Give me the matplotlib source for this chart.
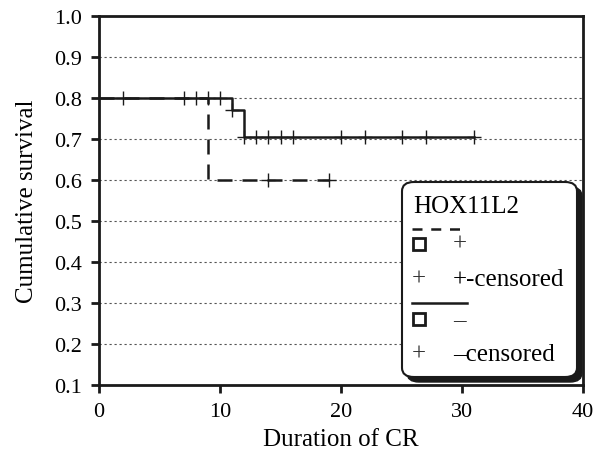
import matplotlib.pyplot as plt
import numpy as np
from matplotlib.patches import FancyBboxPatch
from matplotlib.lines import Line2D

plt.rcParams['font.family'] = ['Liberation Serif', 'DejaVu Serif']

# HOX11L2 negative (solid)
neg_t = [0, 11, 12, 31]
neg_s = [0.8, 0.77, 0.705, 0.705]
neg_cens = [2, 7, 8, 9, 10, 11, 12, 13, 14, 15, 16, 20, 22, 25, 27, 31]

# HOX11L2 positive (dashed)
pos_t = [0, 9, 19]
pos_s = [0.8, 0.6, 0.6]
pos_cens = [14, 19]

xticks = [0, 10, 20, 30, 40]
yticks = [0.1, 0.2, 0.3, 0.4, 0.5, 0.6, 0.7, 0.8, 0.9, 1.0]


def surv_at(t_arr, s_arr, times):
    idx = np.searchsorted(t_arr, times, side='right') - 1
    return np.array(s_arr)[idx]


fig = plt.figure(figsize=(5.95, 4.6), dpi=100)
ax = fig.add_axes([99 / 595, 1 - 386 / 460, 484 / 595, 369 / 460])

for y in yticks[1:-1]:
    ax.axhline(y, color='#555555', lw=0.8, ls=(0, (2, 2.5)), zorder=1)

ax.step(neg_t, neg_s, where='post', color='#1a1a1a', lw=1.8, zorder=3)
ax.plot(neg_cens, surv_at(neg_t, neg_s, neg_cens), ls='none', marker='+',
        ms=10, mew=1.0, color='#1a1a1a', zorder=4)

l, = ax.step(pos_t, pos_s, where='post', color='#1a1a1a', lw=1.8, zorder=3)
l.set_dashes((6, 4))
ax.plot(pos_cens, surv_at(pos_t, pos_s, pos_cens), ls='none', marker='+',
        ms=10, mew=1.0, color='#1a1a1a', zorder=4)

ax.set_xlim(0, 40)
ax.set_ylim(0.1, 1.0)
ax.set_xticks(xticks)
ax.set_yticks(yticks)
ax.set_yticklabels(['%.1f' % v for v in yticks])
ax.tick_params(direction='out', length=6, width=2, labelsize=16, color='#1a1a1a', pad=6)
for sp in ax.spines.values():
    sp.set_linewidth(2)
    sp.set_color('#1a1a1a')
ax.set_xlabel('Duration of CR', fontsize=18, labelpad=5)
ax.set_ylabel('Cumulative survival', fontsize=18, labelpad=12)


# legend box, built in figure pixels
def P(px, py):
    return px / 595, 1 - py / 460


bx0, by0 = P(402, 378)
bx1, by1 = P(577, 183)
off = 5
sx0, sy0 = P(402 + off, 378 + off)
shadow = FancyBboxPatch((sx0, sy0), bx1 - bx0, by1 - by0,
                        boxstyle='round,pad=0,rounding_size=0.02',
                        transform=fig.transFigure, fc='#1a1a1a', ec='#1a1a1a',
                        lw=1, zorder=5)
box = FancyBboxPatch((bx0, by0), bx1 - bx0, by1 - by0,
                     boxstyle='round,pad=0,rounding_size=0.02',
                     transform=fig.transFigure, fc='white', ec='#1a1a1a',
                     lw=1.5, zorder=6)
fig.patches.extend([shadow, box])

fs = 18
fig.text(*P(413, 207), 'HOX11L2', fontsize=fs, va='center', ha='left', zorder=7)
x0, y0 = P(412, 230)
x1, _ = P(466, 230)
ln = Line2D([x0, x1], [y0, y0], transform=fig.transFigure, color='#1a1a1a', lw=1.8, zorder=7)
ln.set_dashes((4, 3.5))
fig.lines.append(ln)
for py in (245, 320):
    mx, my = P(419, py)
    fig.lines.append(Line2D([mx], [my], transform=fig.transFigure, ls='none', marker='s',
                            ms=8, mfc='white', mec='#1a1a1a', mew=2, zorder=7))
fig.text(*P(453, 245), '+', fontsize=fs, va='center', ha='left', color='#333333', zorder=7)
fig.text(*P(412, 280), '+', fontsize=fs, va='center', ha='left', color='#333333', zorder=7)
fig.text(*P(453, 280), '+-censored', fontsize=fs, va='center', ha='left', zorder=7)
x0, y0 = P(412, 304)
x1, _ = P(467, 304)
fig.lines.append(Line2D([x0, x1], [y0, y0], transform=fig.transFigure,
                        color='#1a1a1a', lw=1.8, zorder=7))
fig.text(*P(453, 320), '\u2013', fontsize=fs, va='center', ha='left', color='#333333', zorder=7)
fig.text(*P(412, 355), '+', fontsize=fs, va='center', ha='left', color='#333333', zorder=7)
fig.text(*P(453, 355), '\u2013censored', fontsize=fs, va='center', ha='left', zorder=7)

fig.savefig('out.png', dpi=100)
